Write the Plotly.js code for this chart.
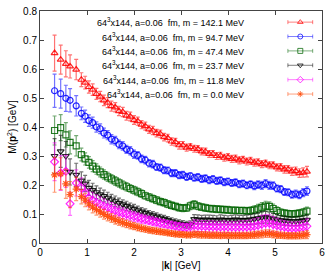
<!DOCTYPE html>
<html>
<head>
<meta charset="utf-8">
<script src="https://cdn.plot.ly/plotly-3.0.1.min.js"></script>
<style>
html,body{margin:0;padding:0;background:#fff;}
#chart{width:332px;height:273px;}
</style>
</head>
<body>
<div id="chart"></div>
<script>
// |k| values [GeV]
const kVals = [
  0.31,0.44,0.55,0.64,0.77,
  0.88,0.96,1.04,1.12,1.20,1.28,1.36,1.44,1.52,1.60,
  1.68,1.76,1.84,1.92,2.00,2.08,2.16,2.24,2.32,2.40,
  2.48,2.56,2.64,2.72,2.80,2.88,2.96,3.04,3.12,3.20,
  3.28,3.36,3.44,3.52,3.60,3.68,3.76,3.84,3.92,4.00,
  4.08,4.16,4.24,4.32,4.40,4.48,4.56,4.64,4.72,4.80,
  4.88,4.96,5.04,5.12,5.20,5.28,5.36,5.44,5.52,5.60,
  5.68
];

const seriesNames = [
  "64<sup>3</sup>x144, a=0.06  fm, m = 142.1 MeV",
  "64<sup>3</sup>x144, a=0.06  fm, m = 94.7 MeV",
  "64<sup>3</sup>x144, a=0.06  fm, m = 47.4 MeV",
  "64<sup>3</sup>x144, a=0.06  fm, m = 23.7 MeV",
  "64<sup>3</sup>x144, a=0.06  fm, m = 11.8 MeV",
  "64<sup>3</sup>x144, a=0.06  fm, m = 0.0 MeV"
];

// M(p^2) [GeV]
const m142 = [
  0.655,0.632,0.618,0.609,0.598,
  0.563,0.553,0.538,0.529,0.514,0.505,0.492,0.484,0.472,0.468,
  0.455,0.452,0.439,0.436,0.424,0.420,0.408,0.403,0.392,0.388,
  0.379,0.376,0.365,0.362,0.350,0.348,0.337,0.337,0.329,0.331,
  0.325,0.324,0.316,0.315,0.307,0.307,0.300,0.301,0.294,0.296,
  0.290,0.291,0.285,0.287,0.281,0.283,0.277,0.278,0.272,0.274,
  0.268,0.268,0.261,0.261,0.254,0.254,0.247,0.248,0.241,0.243,
  0.246
];
const m95 = [
  0.525,0.515,0.499,0.492,0.473,
  0.447,0.437,0.422,0.415,0.400,0.394,0.379,0.372,0.358,0.353,
  0.340,0.335,0.323,0.318,0.306,0.302,0.290,0.286,0.275,0.272,
  0.262,0.260,0.251,0.250,0.241,0.241,0.234,0.235,0.228,0.231,
  0.225,0.227,0.221,0.223,0.217,0.220,0.214,0.216,0.210,0.212,
  0.207,0.209,0.203,0.205,0.199,0.202,0.197,0.201,0.199,0.205,
  0.199,0.198,0.188,0.186,0.176,0.175,0.167,0.169,0.166,0.174,
  0.179
];
const m47 = [
  0.388,0.398,0.373,0.347,0.335,
  0.305,0.290,0.278,0.265,0.255,0.245,0.236,0.228,0.221,0.214,
  0.207,0.200,0.194,0.188,0.182,0.176,0.170,0.163,0.158,0.153,
  0.148,0.143,0.139,0.134,0.130,0.126,0.122,0.120,0.121,0.128,
  0.133,0.127,0.124,0.121,0.119,0.118,0.117,0.116,0.115,0.114,
  0.113,0.113,0.112,0.112,0.111,0.112,0.114,0.118,0.123,0.127,
  0.126,0.119,0.112,0.106,0.103,0.101,0.100,0.101,0.103,0.106,
  0.110
];
const m24 = [
  0.300,0.316,0.300,0.245,0.235,
  0.215,0.205,0.190,0.182,0.175,0.168,0.162,0.156,0.150,0.144,
  0.138,0.133,0.128,0.123,0.118,0.113,0.108,0.104,0.099,0.095,
  0.091,0.087,0.083,0.079,0.075,0.071,0.068,0.065,0.063,0.064,
  0.082,0.081,0.080,0.081,0.080,0.080,0.079,0.081,0.080,0.079,
  0.080,0.081,0.080,0.079,0.080,0.081,0.083,0.085,0.088,0.089,
  0.087,0.084,0.081,0.078,0.077,0.076,0.075,0.075,0.076,0.078,
  0.080
];
const m12 = [
  0.280,0.241,0.247,0.135,0.207,
  0.190,0.172,0.155,0.147,0.140,0.134,0.128,0.122,0.117,0.112,
  0.107,0.103,0.099,0.095,0.091,0.088,0.084,0.081,0.078,0.075,
  0.072,0.069,0.067,0.064,0.062,0.059,0.057,0.055,0.054,0.056,
  0.060,0.059,0.058,0.057,0.057,0.056,0.056,0.055,0.056,0.055,
  0.055,0.054,0.055,0.055,0.055,0.056,0.058,0.061,0.065,0.068,
  0.068,0.064,0.060,0.057,0.055,0.053,0.052,0.052,0.053,0.055,
  0.058
];
const m0 = [
  0.235,0.239,0.204,0.167,0.186,
  0.160,0.148,0.135,0.124,0.115,0.107,0.099,0.092,0.086,0.080,
  0.075,0.070,0.066,0.062,0.058,0.054,0.051,0.048,0.045,0.043,
  0.041,0.039,0.037,0.035,0.033,0.031,0.030,0.029,0.028,0.028,
  0.030,0.029,0.028,0.028,0.027,0.027,0.027,0.026,0.027,0.026,
  0.026,0.026,0.026,0.026,0.026,0.027,0.028,0.029,0.031,0.032,
  0.032,0.030,0.028,0.027,0.026,0.025,0.025,0.025,0.026,0.027,
  0.029
];

// error bars [GeV]
const e142 = [
  0.062,0.050,0.045,0.040,0.035,
  0.024,0.022,0.021,0.020,0.019,0.018,0.018,0.017,0.017,0.016,
  0.016,0.016,0.015,0.015,0.015,0.014,0.014,0.014,0.014,0.014,
  0.013,0.013,0.013,0.013,0.013,0.013,0.013,0.013,0.012,0.012,
  0.012,0.012,0.012,0.012,0.012,0.012,0.012,0.012,0.012,0.012,
  0.012,0.012,0.012,0.012,0.012,0.012,0.012,0.012,0.012,0.012,
  0.012,0.012,0.012,0.013,0.013,0.013,0.014,0.014,0.015,0.016,
  0.018
];
const e95 = [
  0.057,0.050,0.045,0.040,0.035,
  0.022,0.021,0.020,0.019,0.018,0.017,0.017,0.016,0.016,0.015,
  0.015,0.015,0.014,0.014,0.014,0.013,0.013,0.013,0.013,0.013,
  0.012,0.012,0.012,0.012,0.012,0.012,0.012,0.012,0.012,0.012,
  0.012,0.012,0.012,0.012,0.012,0.012,0.012,0.012,0.012,0.012,
  0.012,0.012,0.012,0.012,0.012,0.012,0.013,0.013,0.014,0.014,
  0.014,0.013,0.012,0.012,0.012,0.012,0.012,0.013,0.013,0.014,
  0.015
];
const e47 = [
  0.050,0.045,0.042,0.040,0.035,
  0.022,0.021,0.020,0.019,0.018,0.017,0.016,0.016,0.015,0.015,
  0.014,0.014,0.014,0.013,0.013,0.013,0.013,0.012,0.012,0.012,
  0.012,0.012,0.012,0.012,0.012,0.012,0.012,0.012,0.012,0.013,
  0.013,0.012,0.012,0.012,0.012,0.012,0.012,0.012,0.012,0.012,
  0.012,0.012,0.012,0.012,0.012,0.013,0.014,0.015,0.016,0.017,
  0.016,0.015,0.013,0.012,0.012,0.012,0.012,0.012,0.012,0.013,
  0.014
];
const e24 = [
  0.060,0.055,0.050,0.045,0.040,
  0.030,0.028,0.026,0.024,0.022,0.021,0.020,0.019,0.018,0.018,
  0.017,0.016,0.016,0.015,0.015,0.014,0.014,0.014,0.013,0.013,
  0.013,0.012,0.012,0.012,0.012,0.012,0.012,0.012,0.012,0.012,
  0.016,0.016,0.015,0.015,0.016,0.015,0.015,0.016,0.015,0.015,
  0.015,0.016,0.015,0.016,0.016,0.017,0.018,0.019,0.020,0.020,
  0.019,0.018,0.017,0.016,0.016,0.015,0.015,0.015,0.015,0.016,
  0.017
];
const e12 = [
  0.065,0.060,0.055,0.040,0.045,
  0.035,0.032,0.030,0.028,0.026,0.025,0.024,0.023,0.022,0.021,
  0.020,0.019,0.018,0.018,0.017,0.016,0.016,0.015,0.015,0.015,
  0.014,0.014,0.014,0.013,0.013,0.013,0.013,0.013,0.013,0.018,
  0.020,0.020,0.019,0.020,0.019,0.020,0.019,0.020,0.020,0.019,
  0.020,0.020,0.021,0.021,0.022,0.023,0.025,0.027,0.030,0.030,
  0.029,0.027,0.025,0.023,0.022,0.021,0.020,0.020,0.021,0.022,
  0.025
];
const e0 = [
  0.060,0.055,0.050,0.045,0.040,
  0.025,0.023,0.021,0.020,0.019,0.018,0.017,0.016,0.015,0.015,
  0.014,0.014,0.013,0.013,0.012,0.012,0.012,0.011,0.011,0.011,
  0.011,0.010,0.010,0.010,0.010,0.010,0.010,0.010,0.010,0.010,
  0.011,0.011,0.011,0.011,0.011,0.011,0.011,0.011,0.011,0.011,
  0.011,0.011,0.011,0.011,0.011,0.011,0.012,0.012,0.013,0.013,
  0.013,0.012,0.012,0.011,0.011,0.011,0.011,0.011,0.012,0.012,
  0.014
];

const seriesM = [m142, m95, m47, m24, m12, m0];
const seriesE = [e142, e95, e47, e24, e12, e0];
const colors = ["255,0,0", "0,0,255", "0,100,0", "0,0,0", "255,0,255", "255,69,0"];
const symbols = ["triangle-up-open", "circle-open", "square-open", "triangle-down-open", "diamond-open", "asterisk-open"];

const traces = [];
const annotations = [];
const legendTop = 0.952, legendStep = 0.062;
const keyX = 0.923, keyHalf = 0.044;

for (let i = 0; i < 6; i++) {
  const c = colors[i];
  traces.push({
    type: "scatter", mode: "markers",
    x: kVals, y: seriesM[i],
    marker: {symbol: symbols[i], size: 6, color: "rgba(" + c + ",0.85)", line: {width: 1.2, color: "rgba(" + c + ",0.85)"}},
    error_y: {type: "data", array: seriesE[i], visible: true, color: "rgba(" + c + ",0.55)", thickness: 1.2, width: 2},
    showlegend: false, hoverinfo: "skip"
  });
  const ly = legendTop - i * legendStep;
  traces.push({
    type: "scatter", mode: "markers",
    x: [keyX], y: [ly], xaxis: "x2", yaxis: "y2",
    marker: {symbol: symbols[i], size: 5, color: "rgba(" + c + ",0.75)", line: {width: 1, color: "rgba(" + c + ",0.75)"}},
    error_x: {type: "constant", value: keyHalf, visible: true, color: "rgba(" + c + ",0.5)", thickness: 1, width: 2},
    showlegend: false, hoverinfo: "skip"
  });
  annotations.push({
    xref: "paper", yref: "paper", x: 0.732, y: ly, xanchor: "right", yanchor: "middle",
    text: seriesNames[i], showarrow: false,
    font: {family: "Liberation Sans, Arial, sans-serif", size: 9, color: "#000"}
  });
}

const layout = {
  width: 332, height: 273,
  margin: {l: 40, r: 10, t: 11, b: 30},
  paper_bgcolor: "#fff", plot_bgcolor: "#fff",
  font: {family: "Liberation Sans, Arial, sans-serif", size: 10, color: "#000"},
  xaxis: {
    range: [0, 6], dtick: 1, tick0: 0, ticks: "inside", ticklen: 4, tickcolor: "#444",
    showline: true, linecolor: "#444", linewidth: 1, mirror: "ticks", showgrid: false, zeroline: false,
    title: {text: "|<b>k</b>| [GeV]", standoff: 4, font: {size: 10}}
  },
  yaxis: {
    range: [0, 0.8], dtick: 0.1, tick0: 0, ticks: "inside", ticklen: 4, tickcolor: "#444",
    showline: true, linecolor: "#444", linewidth: 1, mirror: "ticks", showgrid: false, zeroline: false,
    title: {text: "M(<b>p</b><sup>2</sup>) [GeV]", standoff: 4, font: {size: 10}}
  },
  xaxis2: {overlaying: "x", range: [0, 1], visible: false, fixedrange: true},
  yaxis2: {overlaying: "y", range: [0, 1], visible: false, fixedrange: true},
  annotations: annotations,
  showlegend: false
};

Plotly.newPlot("chart", traces, layout, {staticPlot: true, displayModeBar: false});
</script>
</body>
</html>
